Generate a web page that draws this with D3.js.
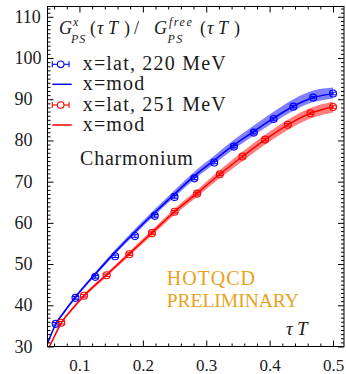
<!DOCTYPE html>
<html><head><meta charset="utf-8">
<script src="https://cdn.jsdelivr.net/npm/d3@7"></script>
</head><body style="margin:0;padding:0;background:#fff"><svg id="c" width="346" height="374" style="display:block"></svg>
<script>
// ---- data ----
const blueTau = [0.0625, 0.09375, 0.125, 0.15625, 0.1875, 0.21875, 0.25, 0.28125, 0.3125, 0.34375, 0.375, 0.40625, 0.4375, 0.46875, 0.5];
const blueVal = [35.5, 41.8, 46.9, 51.9, 56.8, 61.7, 66.3, 70.8, 74.65, 78.5, 81.9, 85.2, 88.2, 90.4, 91.4];
const blueErr = [0.3, 0.3, 0.3, 0.3, 0.3, 0.3, 0.3, 0.3, 0.3, 0.3, 0.3, 0.3, 0.3, 0.3, 0.3];
const redTau = [0.0714, 0.1071, 0.1429, 0.1786, 0.2143, 0.25, 0.2857, 0.3214, 0.3571, 0.3929, 0.4286, 0.4643, 0.5];
const redVal = [35.75, 42.3, 47.3, 52.4, 57.5, 62.7, 67.1, 71.8, 76.1, 80.2, 83.8, 86.6, 88.1];
const redErr = [0.3, 0.3, 0.3, 0.3, 0.3, 0.3, 0.3, 0.3, 0.3, 0.3, 0.3, 0.3, 0.3];

const blueModelTau = [0.0496, 0.055, 0.0625, 0.075, 0.09375, 0.125, 0.15625, 0.1875, 0.21875, 0.25, 0.28125, 0.3125, 0.34375, 0.375, 0.40625, 0.4375, 0.46875, 0.5];
const blueModel    = [30.8, 32.8, 35.4, 38.2, 42.0, 47.6, 52.9, 57.8, 62.5, 67.0, 71.4, 75.2, 78.9, 82.2, 85.4, 88.3, 90.4, 91.3];
const blueBandLow  = [30.5, 32.5, 35.1, 37.85, 41.6, 47.15, 52.4, 57.25, 61.9, 66.3, 70.6, 74.3, 77.9, 81.2, 84.35, 87.2, 89.3, 90.2];
const blueBandHigh = [31.1, 33.1, 35.7, 38.55, 42.4, 48.1, 53.5, 58.5, 63.3, 67.9, 72.4, 76.3, 80.15, 83.6, 86.95, 90.0, 92.1, 92.85];

const redModelTau = [0.0496, 0.0527, 0.06, 0.0714, 0.0893, 0.1071, 0.1429, 0.1786, 0.2143, 0.25, 0.2857, 0.3214, 0.3571, 0.3929, 0.4286, 0.4643, 0.5];
const redModel    = [29.0, 30.0, 32.3, 35.75, 39.2, 42.3, 47.4, 52.5, 57.6, 62.7, 67.2, 71.8, 76.1, 80.2, 83.8, 86.6, 88.1];
const redBandLow  = [28.7, 29.7, 32.0, 35.45, 38.85, 41.9, 46.95, 51.95, 56.95, 61.95, 66.35, 70.8, 74.95, 79.0, 82.55, 85.3, 86.8];
const redBandHigh = [29.3, 30.3, 32.6, 36.05, 39.55, 42.7, 47.85, 53.05, 58.25, 63.45, 68.05, 72.8, 77.25, 81.4, 85.05, 87.9, 89.4];

const xMajor = [0.1, 0.2, 0.3, 0.4, 0.5];
const xMinor = [0.06, 0.08, 0.12, 0.14, 0.16, 0.18, 0.22, 0.24, 0.26, 0.28, 0.32, 0.34, 0.36, 0.38, 0.42, 0.44, 0.46, 0.48];
const yMajor = [30, 40, 50, 60, 70, 80, 90, 100, 110];
const yMinor = d3.range(31, 113).filter(v => v % 10 !== 0);

const legendLabels = ["x=lat, 220 MeV", "x=mod", "x=lat, 251 MeV", "x=mod"];

// ---- layout ----
const svg = d3.select("#c");
const X0 = 47.5, X1 = 344, Y0 = 6.5, Y1 = 346.5;
const x = d3.scaleLinear([0.0496, 0.5173], [X0, X1]);
const y = d3.scaleLinear([30, 112.5], [Y1, Y0]);
const FONT = "'Liberation Serif','Times New Roman',serif";
const BLUE = "#0000ff", RED = "#ff0000", ORANGE = "#e8a21c";

svg.append("defs").append("clipPath").attr("id", "clip")
  .append("rect").attr("x", X0).attr("y", Y0).attr("width", X1 - X0).attr("height", Y1 - Y0);
const plot = svg.append("g").attr("clip-path", "url(#clip)");

function band(tau, lo, hi, color) {
  const d = tau.map((t, i) => ({t, lo: lo[i], hi: hi[i]}));
  plot.append("path").datum(d)
    .attr("d", d3.area().x(p => x(p.t)).y0(p => y(p.lo)).y1(p => y(p.hi)).curve(d3.curveMonotoneX))
    .attr("fill", color).attr("fill-opacity", 0.5);
}
function line(tau, v, color) {
  plot.append("path").datum(tau.map((t, i) => ({t, v: v[i]})))
    .attr("d", d3.line().x(p => x(p.t)).y(p => y(p.v)).curve(d3.curveMonotoneX))
    .attr("fill", "none").attr("stroke", color).attr("stroke-width", 1.5);
}
function points(tau, v, err, color) {
  const g = plot.append("g").attr("stroke", color).attr("fill", "none").attr("stroke-width", 1.1);
  tau.forEach((t, i) => {
    const cx = x(t), cy = y(v[i]), lo = y(v[i] - err[i]), hi = y(v[i] + err[i]);
    g.append("circle").attr("cx", cx).attr("cy", cy).attr("r", 3.5);
    g.append("line").attr("x1", cx).attr("x2", cx).attr("y1", lo).attr("y2", hi);
    g.append("line").attr("x1", cx - 3.3).attr("x2", cx + 3.3).attr("y1", lo).attr("y2", lo);
    g.append("line").attr("x1", cx - 3.3).attr("x2", cx + 3.3).attr("y1", hi).attr("y2", hi);
  });
}
band(blueModelTau, blueBandLow, blueBandHigh, BLUE);
band(redModelTau, redBandLow, redBandHigh, RED);
line(blueModelTau, blueModel, BLUE);
line(redModelTau, redModel, RED);
points(blueTau, blueVal, blueErr, BLUE);
points(redTau, redVal, redErr, RED);

// ---- axes ----
function styleAxis(g) {
  g.attr("font-family", FONT);
  g.select(".domain").remove();
  g.selectAll(".tick line").attr("stroke", "#000").attr("stroke-width", 1);
}
const fmt = d3.format(".1f");
svg.append("g").attr("transform", `translate(0,${Y1})`)
  .call(d3.axisBottom(x).tickValues(xMajor).tickSizeInner(-6).tickSizeOuter(0).tickFormat(fmt))
  .call(styleAxis)
  .call(g => g.selectAll(".tick text").attr("y", 24.5).attr("dy", 0)
    .attr("font-family", FONT).attr("font-size", 17).attr("fill", "#1a1a1a"));
svg.append("g").attr("transform", `translate(0,${Y1})`)
  .call(d3.axisBottom(x).tickValues(xMinor).tickSizeInner(-3).tickSizeOuter(0).tickFormat(""))
  .call(styleAxis);
svg.append("g").attr("transform", `translate(0,${Y0})`)
  .call(d3.axisTop(x).tickValues(xMajor).tickSizeInner(-6).tickSizeOuter(0).tickFormat(""))
  .call(styleAxis);
svg.append("g").attr("transform", `translate(0,${Y0})`)
  .call(d3.axisTop(x).tickValues(xMinor).tickSizeInner(-3).tickSizeOuter(0).tickFormat(""))
  .call(styleAxis);
svg.append("g").attr("transform", `translate(${X0},0)`)
  .call(d3.axisLeft(y).tickValues(yMajor).tickSizeInner(-6).tickSizeOuter(0).tickFormat(d3.format("d")))
  .call(styleAxis)
  .call(g => g.selectAll(".tick text").attr("x", 14.5 - X0).attr("dy", "5.5px")
    .attr("text-anchor", "start").attr("font-family", FONT).attr("font-size", 18).attr("fill", "#1a1a1a"));
svg.append("g").attr("transform", `translate(${X0},0)`)
  .call(d3.axisLeft(y).tickValues(yMinor).tickSizeInner(-3).tickSizeOuter(0).tickFormat(""))
  .call(styleAxis);
svg.append("g").attr("transform", `translate(${X1},0)`)
  .call(d3.axisRight(y).tickValues(yMajor).tickSizeInner(-6).tickSizeOuter(0).tickFormat(""))
  .call(styleAxis);
svg.append("g").attr("transform", `translate(${X1},0)`)
  .call(d3.axisRight(y).tickValues(yMinor).tickSizeInner(-3).tickSizeOuter(0).tickFormat(""))
  .call(styleAxis);
svg.append("rect").attr("x", X0).attr("y", Y0).attr("width", X1 - X0).attr("height", Y1 - Y0)
  .attr("fill", "none").attr("stroke", "#000").attr("stroke-width", 1);

// ---- texts ----
const texts = svg.append("g").attr("font-family", FONT);
function txt(str, x0, base, ls, size, opts = {}) {
  const t = texts.append("text").attr("x", x0).attr("y", base)
    .attr("font-family", FONT).attr("font-size", size)
    .attr("fill", opts.fill || "#1a1a1a");
  if (ls) t.attr("letter-spacing", ls);
  if (opts.italic) t.attr("font-style", "italic");
  t.text(str);
  return t;
}
// title  G^x_PS(τT)/G^free_PS(τT)
txt("G", 59, 34, null, 18, {italic: true});
txt("x", 73, 26, null, 12, {italic: true});
txt("PS", 71, 43, 1, 12, {italic: true});
txt("(", 90, 34, null, 18);
txt("τ", 97, 34, null, 18, {italic: true});
txt("T", 108, 34, null, 18, {italic: true});
txt(")", 124, 34, null, 18);
txt("/", 134, 34, null, 18);
txt("G", 154, 34, null, 18, {italic: true});
txt("free", 169, 26, 1.5, 12, {italic: true});
txt("PS", 167.5, 43, 1.5, 12, {italic: true});
txt("(", 200, 34, null, 18);
txt("τ", 207, 34, null, 18, {italic: true});
txt("T", 218, 34, null, 18, {italic: true});
txt(")", 234, 34, null, 18);

// legend
const legY = [64.3, 84.3, 105, 125];
const legC = [BLUE, BLUE, RED, RED];
legendLabels.forEach((lab, i) => {
  const cy = legY[i], c = legC[i];
  if (i % 2 === 0) {
    const g = svg.append("g").attr("stroke", c).attr("fill", "none").attr("stroke-width", 1.1);
    g.append("line").attr("x1", 52.3).attr("x2", 69).attr("y1", cy).attr("y2", cy);
    g.append("line").attr("x1", 52.3).attr("x2", 52.3).attr("y1", cy - 3).attr("y2", cy + 3);
    g.append("line").attr("x1", 69).attr("x2", 69).attr("y1", cy - 3).attr("y2", cy + 3);
    g.append("circle").attr("cx", 60.7).attr("cy", cy).attr("r", 3.3).attr("fill", "#fff");
  } else {
    svg.append("line").attr("x1", 52.3).attr("x2", 71.7).attr("y1", cy).attr("y2", cy)
      .attr("stroke", c).attr("stroke-width", 1.5);
  }
  txt(lab, 82.7, cy + 6, 1.2, 20);
});

txt("Charmonium", 80, 165, 0.8, 20);
txt("HOTQCD", 166.7, 285, 1, 20, {fill: ORANGE});
txt("PRELIMINARY", 166.7, 306.7, 0, 19.5, {fill: ORANGE});
txt("τ", 286, 335, null, 19, {italic: true});
txt("T", 297, 335, null, 19, {italic: true});
</script></body></html>
